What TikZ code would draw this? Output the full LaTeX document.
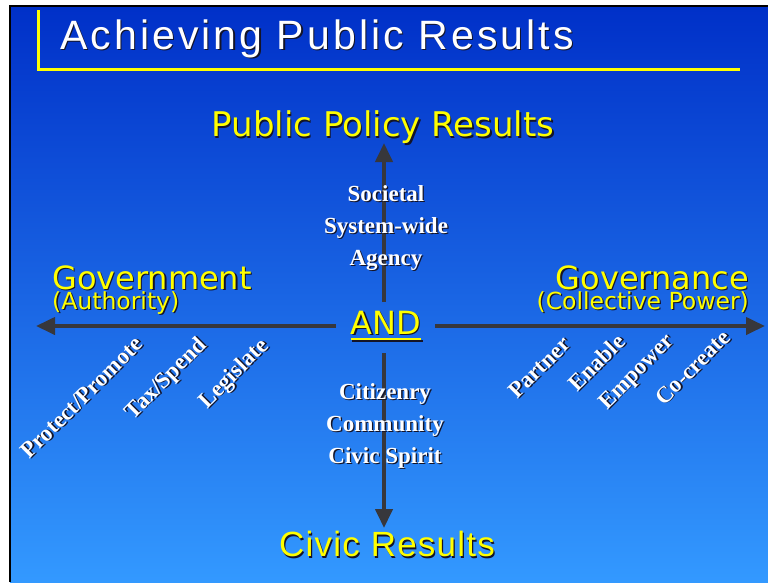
\documentclass[tikz,border=0pt]{standalone}
\usepackage{fontspec}
\setmainfont{Liberation Sans}
\newfontfamily\serifbf{Liberation Serif}
\newfontfamily\widesans{DejaVu Sans}
\newfontfamily\spacedsans{Liberation Sans}[LetterSpace=7.5]
\newfontfamily\civicsans{Liberation Sans}[LetterSpace=3.5]
\usetikzlibrary{arrows.meta}
\definecolor{bgtop}{RGB}{0,48,200}
\definecolor{bgbot}{RGB}{51,153,255}
\definecolor{hl}{RGB}{255,255,0}
\definecolor{axis}{RGB}{55,55,60}
\definecolor{shd}{RGB}{20,20,40}
% text with a dark drop shadow
\newcommand\sh[1]{\leavevmode\rlap{\kern1.3pt\raisebox{-1.3pt}{\textcolor{shd}{#1}}}#1}
\tikzset{
  axisarrow/.style={draw=axis, line width=4pt, -{Triangle[length=19pt,width=17pt]}},
  heading/.style={text=hl, font=\widesans\fontsize{34}{36}\selectfont, inner sep=0pt},
  side/.style={text=hl, inner sep=0pt, align=left},
  sidebig/.style={side, font=\widesans\fontsize{32}{34}\selectfont},
  sidesmall/.style={side, font=\widesans\fontsize{23.5}{25}\selectfont},
  facet/.style={text=white, font=\serifbf\bfseries\fontsize{23}{32}\selectfont, align=center, inner sep=0pt},
  tilted/.style={text=white, font=\serifbf\bfseries\fontsize{23}{24}\selectfont, rotate=45, inner sep=0pt},
}
\begin{document}
\begin{tikzpicture}[x=1pt,y=-1pt]
\useasboundingbox (0,0) rectangle (768,582);
\fill[white] (0,0) rectangle (768,582);
% panel with vertical colour gradient
\shade[top color=bgtop, bottom color=bgbot] (10,6) rectangle (768,582);
\draw[black, line width=2pt] (10,582) -- (10,6) -- (768,6);
% title bar
\draw[hl, line width=3pt] (38.5,10) -- (38.5,69) -- (740,69);
\node[anchor=base west, text=white, inner sep=0pt, font=\spacedsans\fontsize{41}{44}\selectfont] (title) at (60,49.5) {\sh{Achieving Public Results}};

% centre
\node[text=hl, inner sep=0pt, font=\widesans\fontsize{32}{34}\selectfont] (and) at (386,323) {\sh{AND}};
\draw[shd, line width=2pt] ([xshift=1.3pt,yshift=-17.5pt]and.west) -- ([xshift=1.3pt,yshift=-17.5pt]and.east);
\draw[hl, line width=2pt] ([yshift=-16.2pt]and.west) -- ([yshift=-16.2pt]and.east);
\coordinate (upstart) at (384,302);
\coordinate (downstart) at (384,353);
\coordinate (leftstart) at (336,326);
\coordinate (rightstart) at (435,326);
\coordinate (uptip) at (384,143);
\coordinate (downtip) at (384,528);
\coordinate (lefttip) at (36,326);
\coordinate (righttip) at (765,326);
\draw[axisarrow] (upstart) -- (uptip);
\draw[axisarrow] (downstart) -- (downtip);
\draw[axisarrow] (leftstart) -- (lefttip);
\draw[axisarrow] (rightstart) -- (righttip);

% axis ends
\node[heading] (policy) at (383,128) {\sh{Public Policy Results}};
\node[text=hl, inner sep=0pt, font=\civicsans\fontsize{35}{38}\selectfont] (civic) at (387,545) {\sh{Civic Results}};
\node[sidebig, anchor=base west] (gov) at (52,289) {\sh{Government}};
\node[sidesmall, anchor=base west] (auth) at (52,309) {\sh{(Authority)}};
\node[sidebig, anchor=base east] (gvn) at (749,289) {\sh{Governance}};
\node[sidesmall, anchor=base east] (coll) at (749,309) {\sh{(Collective Power)}};

% vertical facets
\node[facet] (upper) at (386,228.5) {\sh{Societal}\\\sh{System-wide}\\\sh{Agency}};
\node[facet] (lower) at (385,426.5) {\sh{Citizenry}\\\sh{Community}\\\sh{Civic Spirit}};

% instruments along the horizontal axis
\node[tilted] (protect) at (82,398) {\sh{Protect/Promote}};
\node[tilted] (tax) at (167,380) {\sh{Tax/Spend}};
\node[tilted] (legis) at (235,375) {\sh{Legislate}};
\node[tilted] (partner) at (540,368) {\sh{Partner}};
\node[tilted] (enable) at (597,363) {\sh{Enable}};
\node[tilted] (empower) at (638,373) {\sh{Empower}};
\node[tilted] (cocreate) at (693,368) {\sh{Co-create}};
\end{tikzpicture}
\end{document}
